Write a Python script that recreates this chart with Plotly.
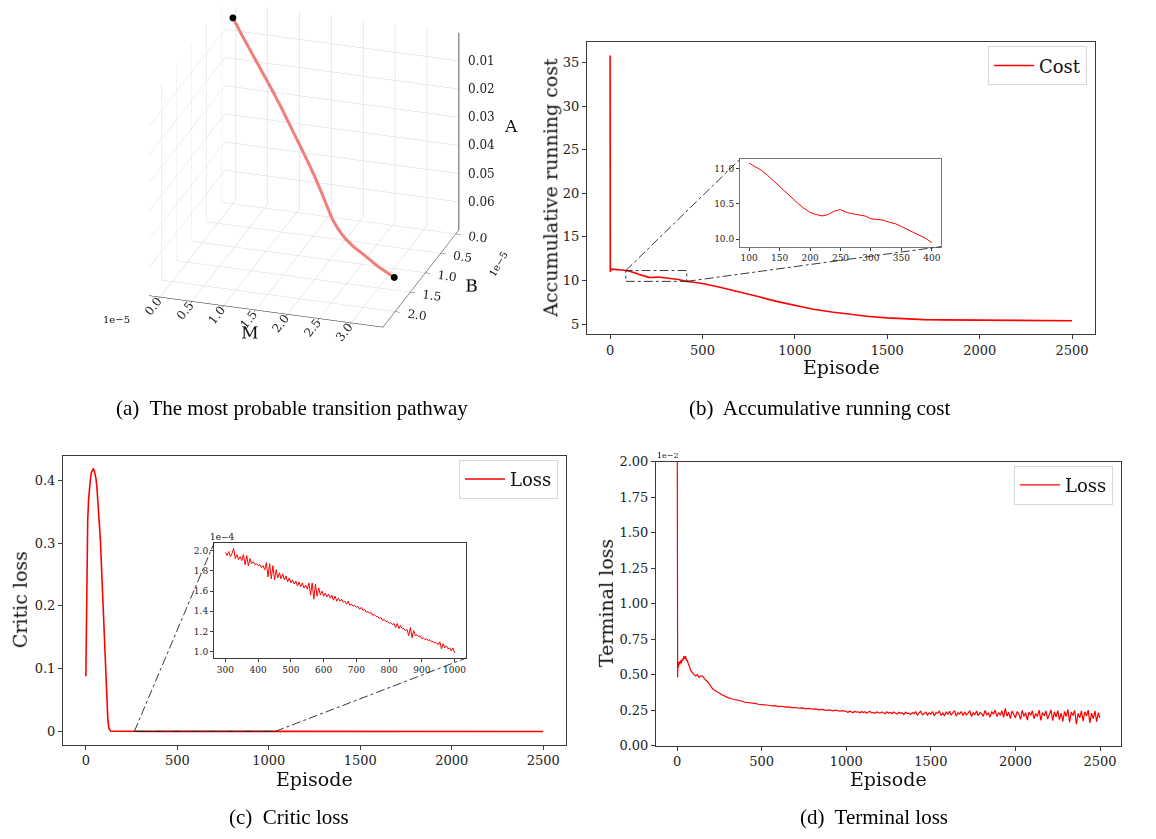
import plotly.graph_objects as go

W, H = 1156, 839

# ---------------- (a) most probable transition pathway ----------------
path_M = [0.0, 0.15, 0.32, 0.5, 0.68, 0.85, 1.0, 1.15, 1.3, 1.45, 1.58, 1.7, 1.82, 1.95, 2.1, 2.3, 2.55, 2.85, 3.2]   # x 1e-5
path_B = [0.0, 0.03, 0.06, 0.1, 0.14, 0.18, 0.22, 0.26, 0.3, 0.35, 0.4, 0.46, 0.54, 0.62, 0.72, 0.85, 1.0, 1.2, 1.4]   # x 1e-5
path_A = [0.004, 0.009, 0.0145, 0.02, 0.0255, 0.031, 0.036, 0.041, 0.046, 0.051, 0.0555, 0.0595, 0.0625, 0.0645, 0.0658, 0.0665, 0.0668, 0.067, 0.067]
M_ticks = [0.0, 0.5, 1.0, 1.5, 2.0, 2.5, 3.0]
B_ticks = [0.0, 0.5, 1.0, 1.5, 2.0]
A_ticks = [0.01, 0.02, 0.03, 0.04, 0.05, 0.06]
M_range = [-0.17, 3.5]
B_range = [2.4, -0.1]
A_range = [0.07, 0.0]

# ---------------- (b) accumulative running cost ----------------
cost_ep = [0, 1, 2, 3, 10, 30, 50, 75, 100, 110, 120, 130, 140, 150, 160, 170, 180, 190, 200,
           210, 220, 230, 240, 250, 260, 270, 280, 290, 300, 310, 320, 330, 340, 350, 360, 370,
           380, 390, 400, 450, 500, 600, 700, 800, 900, 1000, 1100, 1200, 1300, 1400, 1500,
           1600, 1700, 1800, 2000, 2200, 2400, 2499]
cost_val = [35.8, 11.0, 21.0, 11.2, 11.3, 11.28, 11.24, 11.17, 11.08, 11.03, 10.98, 10.91, 10.83,
            10.74, 10.66, 10.59, 10.51, 10.44, 10.38, 10.35, 10.33, 10.35, 10.40, 10.42, 10.38,
            10.36, 10.34, 10.33, 10.29, 10.28, 10.27, 10.24, 10.22, 10.18, 10.14, 10.10, 10.06,
            10.01, 9.95, 9.80, 9.65, 9.20, 8.70, 8.15, 7.60, 7.12, 6.70, 6.38, 6.10, 5.87, 5.70,
            5.58, 5.50, 5.47, 5.44, 5.41, 5.38, 5.37]
cost_zoom = [100, 400]

# ---------------- (c) critic loss ----------------
critic_head_ep = [0, 2, 4, 7, 10, 15, 20, 25, 30, 35, 40, 45, 50, 55, 60, 65, 70, 75, 80, 85, 90,
                  95, 100, 105, 110, 115, 120, 125, 130, 135, 140, 160, 200, 250]
critic_head_val = [0.088, 0.17, 0.24, 0.30, 0.335, 0.37, 0.39, 0.402, 0.412, 0.417, 0.418, 0.416,
                   0.41, 0.403, 0.39, 0.372, 0.35, 0.325, 0.30, 0.265, 0.225, 0.18, 0.14, 0.11,
                   0.085, 0.05, 0.02, 0.006, 0.0015, 0.0006, 0.0004, 0.0003, 0.00025, 0.00022]
critic_zoom_ep = list(range(300, 1001, 5))
critic_zoom_val = [  # x 1e-4
    1.98, 1.95, 1.99, 1.94, 1.97, 2.02, 1.92, 1.96, 1.91, 1.94, 1.90, 1.96, 1.86, 1.95, 1.85,
    1.92, 1.87, 1.89, 1.86, 1.87, 1.85, 1.86, 1.83, 1.85, 1.81, 1.88, 1.74, 1.87, 1.72, 1.85,
    1.71, 1.81, 1.73, 1.78, 1.72, 1.77, 1.71, 1.75, 1.69, 1.73, 1.68, 1.71, 1.67, 1.70, 1.65,
    1.69, 1.64, 1.68, 1.63, 1.66, 1.62, 1.68, 1.56, 1.68, 1.52, 1.67, 1.55, 1.63, 1.56, 1.60,
    1.55, 1.58, 1.54, 1.57, 1.53, 1.56, 1.51, 1.55, 1.50, 1.53, 1.50, 1.52, 1.49, 1.50, 1.47,
    1.50, 1.46, 1.47, 1.45, 1.46, 1.44, 1.45, 1.42, 1.44, 1.41, 1.42, 1.39, 1.40, 1.38, 1.39,
    1.36, 1.37, 1.35, 1.35, 1.33, 1.34, 1.31, 1.32, 1.30, 1.30, 1.28, 1.29, 1.27, 1.28, 1.24,
    1.28, 1.23, 1.26, 1.23, 1.23, 1.21, 1.22, 1.16, 1.24, 1.14, 1.21, 1.16, 1.17, 1.15, 1.16,
    1.13, 1.14, 1.12, 1.13, 1.11, 1.12, 1.10, 1.10, 1.09, 1.09, 1.07, 1.10, 1.03, 1.08, 1.04,
    1.06, 1.03, 1.04, 1.01, 1.04, 0.99]
critic_tail_ep = [1100, 1300, 1500, 1700, 1900, 2100, 2300, 2499]
critic_tail_val = [0.00009, 0.00008, 0.00007, 0.00006, 0.00005, 0.00004, 0.00004, 0.00003]

# ---------------- (d) terminal loss (x 1e-2) ----------------
term_head_ep = [0, 3, 5, 8, 10, 15, 20, 25, 30, 35, 40, 45, 50, 55, 60, 65, 70, 75, 80, 90, 100,
                110, 120, 130, 140, 150, 160, 170, 180, 190, 200, 210, 220, 230, 240, 250]
term_head_val = [2.6, 0.48, 0.58, 0.55, 0.59, 0.57, 0.60, 0.58, 0.61, 0.60, 0.63, 0.61, 0.63, 0.60,
                 0.60, 0.58, 0.57, 0.55, 0.53, 0.51, 0.50, 0.49, 0.50, 0.48, 0.49, 0.49, 0.47, 0.46,
                 0.45, 0.43, 0.42, 0.40, 0.39, 0.385, 0.375, 0.37]
term_mid_ep = list(range(260, 1000, 20))
term_mid_val = [0.362, 0.348, 0.338, 0.330, 0.326, 0.317, 0.314, 0.305, 0.303, 0.298, 0.297,
                0.291, 0.290, 0.286, 0.284, 0.279, 0.281, 0.275, 0.277, 0.271, 0.272, 0.267,
                0.268, 0.263, 0.266, 0.259, 0.262, 0.256, 0.258, 0.252, 0.255, 0.248, 0.251,
                0.245, 0.249, 0.242, 0.246]
term_tail_ep = list(range(1000, 2500, 10)) + [2499]
term_tail_val = [
    0.240, 0.233, 0.244, 0.236, 0.231, 0.242, 0.235, 0.238, 0.229, 0.240,
    0.233, 0.238, 0.228, 0.236, 0.241, 0.230, 0.234, 0.226, 0.237, 0.232,
    0.228, 0.236, 0.230, 0.224, 0.238, 0.229, 0.233, 0.225, 0.236, 0.228,
    0.222, 0.234, 0.227, 0.231, 0.219, 0.236, 0.226, 0.229, 0.218, 0.233,
    0.225, 0.238, 0.215, 0.230, 0.241, 0.217, 0.228, 0.235, 0.214, 0.231,
    0.222, 0.240, 0.210, 0.233, 0.226, 0.244, 0.212, 0.230, 0.208, 0.238,
    0.219, 0.242, 0.214, 0.228, 0.246, 0.207, 0.232, 0.221, 0.240, 0.211,
    0.236, 0.215, 0.228, 0.245, 0.205, 0.231, 0.219, 0.243, 0.210, 0.234,
    0.224, 0.206, 0.247, 0.218, 0.229, 0.200, 0.240, 0.221, 0.250, 0.204,
    0.232, 0.214, 0.246, 0.198, 0.262, 0.207, 0.236, 0.190, 0.244, 0.215,
    0.196, 0.240, 0.222, 0.185, 0.248, 0.205, 0.232, 0.180, 0.236, 0.214,
    0.245, 0.190, 0.226, 0.205, 0.250, 0.178, 0.232, 0.210, 0.244, 0.186,
    0.220, 0.252, 0.175, 0.238, 0.200, 0.246, 0.183, 0.228, 0.170, 0.240,
    0.205, 0.254, 0.165, 0.236, 0.212, 0.248, 0.150, 0.226, 0.195, 0.244,
    0.172, 0.238, 0.210, 0.250, 0.160, 0.228, 0.190, 0.245, 0.168, 0.232,
    0.195]
term_ep = term_head_ep + term_mid_ep + term_tail_ep
term_val = term_head_val + term_mid_val + term_tail_val

# ---------------- layout helpers ----------------
def dx(p0, p1):
    return [p0 / W, p1 / W]

def dy(top, bottom):
    return [1 - bottom / H, 1 - top / H]

def pad(lo, hi, f=0.05):
    s = hi - lo
    return [lo - f * s, hi + f * s]

SERIF = "DejaVu Serif"
TIMES = "Liberation Serif"
RED = "#ff0000"
SPINE = "#3a3a3a"

def axstyle(dom, anchor, rng, size=13, **kw):
    d = dict(domain=dom, anchor=anchor, range=rng, showline=True, mirror=True,
             linecolor=SPINE, linewidth=1, ticks="outside", ticklen=4, tickcolor=SPINE,
             showgrid=False, zeroline=False,
             tickfont=dict(family=SERIF, size=size, color="#222"))
    d.update(kw)
    return d

# domains (pixels)
B_X, B_Y = (587, 1095), (36, 333)
BI_X, BI_Y = (740, 941), (155, 244)
C_X, C_Y = (63, 566), (457, 751)
CI_X, CI_Y = (214, 466), (546, 663)
D_X, D_Y = (656, 1121), (463, 752)

b_xr = pad(min(cost_ep), max(cost_ep))
b_yr = pad(min(cost_val), max(cost_val))
bi_idx = [i for i, e in enumerate(cost_ep) if cost_zoom[0] <= e <= cost_zoom[1]]
bi_ep = [cost_ep[i] for i in bi_idx]
bi_val = [cost_val[i] for i in bi_idx]
bi_xr = pad(min(bi_ep), max(bi_ep))
bi_yr = pad(min(bi_val), max(bi_val))

critic_ep = critic_head_ep + critic_zoom_ep + critic_tail_ep
critic_val = critic_head_val + [v * 1e-4 for v in critic_zoom_val] + critic_tail_val
c_xr = pad(min(critic_ep), max(critic_ep))
c_yr = pad(min(critic_val), max(critic_val))
ci_xr = pad(min(critic_zoom_ep), max(critic_zoom_ep))
ci_yr = pad(min(critic_zoom_val), max(critic_zoom_val))

d_xr = pad(min(term_ep), max(term_ep))
d_yr = [0, 2.0]

fig = go.Figure()

# (a) 3D
fig.add_trace(go.Scatter3d(x=path_M, y=path_B, z=path_A, mode="lines",
                           line=dict(color="#f07f7a", width=6), showlegend=False,
                           scene="scene"))
fig.add_trace(go.Scatter3d(x=[path_M[0], path_M[-1]], y=[path_B[0], path_B[-1]],
                           z=[path_A[0], path_A[-1]], mode="markers",
                           marker=dict(color="black", size=4), showlegend=False,
                           scene="scene"))
# A-axis spine on the right vertical edge (as in matplotlib)
fig.add_trace(go.Scatter3d(x=[M_range[1], M_range[1]], y=[B_range[1], B_range[1]],
                           z=[A_range[0], A_range[1]], mode="lines",
                           line=dict(color="#222", width=1.5), showlegend=False,
                           hoverinfo="skip", scene="scene"))

# (b)
fig.add_trace(go.Scatter(x=cost_ep, y=cost_val, mode="lines", name="Cost",
                         line=dict(color=RED, width=1.6), xaxis="x", yaxis="y",
                         legend="legend"))
fig.add_trace(go.Scatter(x=bi_ep, y=bi_val, mode="lines", showlegend=False,
                         line=dict(color=RED, width=1), xaxis="x2", yaxis="y2"))
# (c)
fig.add_trace(go.Scatter(x=critic_ep, y=critic_val, mode="lines", name="Loss",
                         line=dict(color=RED, width=1.6), xaxis="x3", yaxis="y3",
                         legend="legend2"))
fig.add_trace(go.Scatter(x=critic_zoom_ep, y=critic_zoom_val, mode="lines", showlegend=False,
                         line=dict(color=RED, width=1), xaxis="x4", yaxis="y4"))
# (d)
fig.add_trace(go.Scatter(x=term_ep, y=term_val, mode="lines", name="Loss",
                         line=dict(color=RED, width=1.2), xaxis="x5", yaxis="y5",
                         legend="legend3"))

ax3d_font = dict(family=SERIF, size=12, color="#222")
ax3d_common = dict(showbackground=False, gridcolor="#d6d6d6", gridwidth=1,
                   zeroline=False, showspikes=False, tickfont=ax3d_font)

scene_ann = [dict(x=M_range[1], y=B_range[1], z=a, text="%.2f" % a, showarrow=False,
                  xanchor="left", xshift=8, font=ax3d_font) for a in A_ticks]
scene_ann.append(dict(x=M_range[1], y=B_range[1], z=0.033, text="A", showarrow=False,
                      xanchor="left", xshift=44, font=dict(family=SERIF, size=17, color="#111")))

layout = dict(
    width=W, height=H, margin=dict(l=0, r=0, t=0, b=0),
    paper_bgcolor="white", plot_bgcolor="white",
    scene=dict(
        domain=dict(x=[0.055, 0.47], y=[1 - 345 / H, 1.0]),
        xaxis=dict(title=dict(text="M", font=dict(family=SERIF, size=17, color="#111")),
                   range=M_range, tickvals=M_ticks, showline=True, linecolor="#222",
                   ticks="outside", ticktext=["%.1f" % v for v in M_ticks], **ax3d_common),
        yaxis=dict(title=dict(text="B", font=dict(family=SERIF, size=17, color="#111")),
                   range=B_range, tickvals=B_ticks, showline=True, linecolor="#222",
                   ticks="outside", ticktext=["%.1f" % v for v in B_ticks], **ax3d_common),
        zaxis=dict(title=dict(text=""), range=A_range, tickvals=A_ticks,
                   showticklabels=False, showline=False, ticks="", **ax3d_common),
        aspectmode="manual", aspectratio=dict(x=1.45, y=1.45, z=1.28),
        camera=dict(eye=dict(x=0.50, y=-1.54, z=0.66), center=dict(x=0, y=0, z=-0.08),
                    projection=dict(type="orthographic")),
        annotations=scene_ann,
    ),
    xaxis=axstyle(dx(*B_X), "y", b_xr, tickvals=[0, 500, 1000, 1500, 2000, 2500]),
    yaxis=axstyle(dy(*B_Y), "x", b_yr, tickvals=[5, 10, 15, 20, 25, 30, 35]),
    xaxis2=axstyle(dx(*BI_X), "y2", bi_xr, size=9, ticklen=3,
                   tickvals=[100, 150, 200, 250, 300, 350, 400], linecolor="#777"),
    yaxis2=axstyle(dy(*BI_Y), "x2", bi_yr, size=9, ticklen=3,
                   tickvals=[10.0, 10.5, 11.0], ticktext=["10.0", "10.5", "11.0"],
                   linecolor="#777"),
    xaxis3=axstyle(dx(*C_X), "y3", c_xr, tickvals=[0, 500, 1000, 1500, 2000, 2500]),
    yaxis3=axstyle(dy(*C_Y), "x3", c_yr, tickvals=[0, 0.1, 0.2, 0.3, 0.4],
                   ticktext=["0", "0.1", "0.2", "0.3", "0.4"]),
    xaxis4=axstyle(dx(*CI_X), "y4", ci_xr, size=9, ticklen=3,
                   tickvals=[300, 400, 500, 600, 700, 800, 900, 1000]),
    yaxis4=axstyle(dy(*CI_Y), "x4", ci_yr, size=9, ticklen=3,
                   tickvals=[1.0, 1.2, 1.4, 1.6, 1.8, 2.0],
                   ticktext=["1.0", "1.2", "1.4", "1.6", "1.8", "2.0"]),
    xaxis5=axstyle(dx(*D_X), "y5", d_xr, tickvals=[0, 500, 1000, 1500, 2000, 2500]),
    yaxis5=axstyle(dy(*D_Y), "x5", d_yr, tickvals=[0, 0.25, 0.5, 0.75, 1.0, 1.25, 1.5, 1.75, 2.0],
                   ticktext=["0.00", "0.25", "0.50", "0.75", "1.00", "1.25", "1.50", "1.75", "2.00"]),
)

leg_common = dict(bgcolor="white", bordercolor="#d8d8d8", borderwidth=1,
                  font=dict(family=SERIF, size=18, color="#111"), xanchor="right",
                  yanchor="top", itemwidth=40, tracegroupgap=0)
layout["legend"] = dict(x=(B_X[1] - 8) / W, y=1 - 40 / H, **leg_common)
layout["legend2"] = dict(x=(C_X[1] - 8) / W, y=1 - 461 / H, **leg_common)
layout["legend3"] = dict(x=(D_X[1] - 8) / W, y=1 - 467 / H, **leg_common)

fig.update_layout(**layout)

# ----- zoom rectangles and connectors -----
def to_paper(xv, yv, xr, yr, xd, yd):
    px = xd[0] + (xv - xr[0]) / (xr[1] - xr[0]) * (xd[1] - xd[0])
    py = yd[1] - (yv - yr[0]) / (yr[1] - yr[0]) * (yd[1] - yd[0])
    return px / W, 1 - py / H

conn = dict(color="#222", width=0.9, dash="dashdot")
# (b)
fig.add_shape(type="rect", xref="x", yref="y", x0=bi_xr[0], x1=bi_xr[1], y0=bi_yr[0],
              y1=bi_yr[1], line=conn)
p1 = to_paper(bi_xr[0], bi_yr[1], b_xr, b_yr, B_X, B_Y)
p2 = to_paper(bi_xr[1], bi_yr[0], b_xr, b_yr, B_X, B_Y)
fig.add_shape(type="line", xref="paper", yref="paper", x0=p1[0], y0=p1[1],
              x1=BI_X[0] / W, y1=1 - BI_Y[0] / H, line=conn)
fig.add_shape(type="line", xref="paper", yref="paper", x0=p2[0], y0=p2[1],
              x1=BI_X[1] / W, y1=1 - BI_Y[1] / H, line=conn)
# (c)
fig.add_shape(type="rect", xref="x3", yref="y3", x0=ci_xr[0], x1=ci_xr[1],
              y0=ci_yr[0] * 1e-4, y1=ci_yr[1] * 1e-4, line=conn)
q1 = to_paper(ci_xr[0], ci_yr[1] * 1e-4, c_xr, c_yr, C_X, C_Y)
q2 = to_paper(ci_xr[1], ci_yr[0] * 1e-4, c_xr, c_yr, C_X, C_Y)
fig.add_shape(type="line", xref="paper", yref="paper", x0=q1[0], y0=q1[1],
              x1=CI_X[0] / W, y1=1 - CI_Y[0] / H, line=conn)
fig.add_shape(type="line", xref="paper", yref="paper", x0=q2[0], y0=q2[1],
              x1=CI_X[1] / W, y1=1 - CI_Y[1] / H, line=conn)

# ----- texts -----
def ann(text, x, y, size, family=SERIF, angle=0, color="#111", xanchor="center", yanchor="middle"):
    fig.add_annotation(text=text, x=x / W, y=1 - y / H, xref="paper", yref="paper",
                       showarrow=False, textangle=angle, xanchor=xanchor, yanchor=yanchor,
                       font=dict(family=family, size=size, color=color))

ann("Accumulative running cost", 550, 184, 19, angle=-90)
ann("Episode", 841, 367, 19)
ann("Critic loss", 20, 604, 19, angle=-90)
ann("Episode", 314, 786, 19)
ann("Terminal loss", 606, 607, 19, angle=-90)
ann("Episode", (D_X[0] + D_X[1]) / 2, 786, 19)
ann("1e\u22124", 222, 540, 9)
ann("1e\u22122", 668, 457, 8)
ann("1e\u22125", 116, 318, 10)
ann("1e\u22125", 498, 262, 10, angle=-60)

ann("(a)  The most probable transition pathway", 292, 408, 21, family=TIMES, color="#000")
ann("(b)  Accumulative running cost", 819, 408, 21, family=TIMES, color="#000")
ann("(c)  Critic loss", 289, 825, 21, family=TIMES, color="#000")
ann("(d)  Terminal loss", 874, 825, 21, family=TIMES, color="#000")

fig.write_html("out.html", config={"displayModeBar": False},
               post_script="document.body.style.margin='0px';")
